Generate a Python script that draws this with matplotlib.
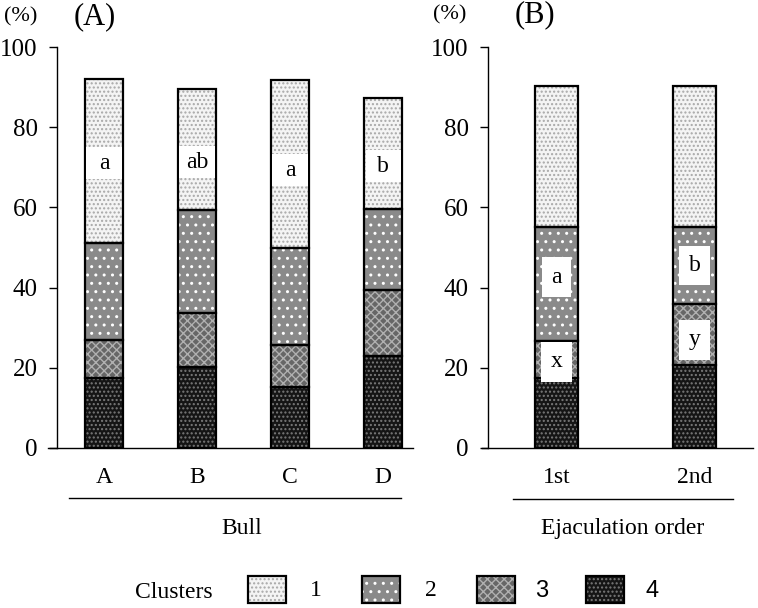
import matplotlib
matplotlib.use("Agg")
import matplotlib.pyplot as plt
from matplotlib.patches import Rectangle
import numpy as np

plt.rcParams['font.family'] = ['Liberation Serif', 'DejaVu Serif']
plt.rcParams['hatch.linewidth'] = 1.0

# data: percentage of each cluster (stack order: 4 at bottom, 1 at top)
bulls = ['A', 'B', 'C', 'D']
bull_c4 = [17.5, 20.3, 15.2, 23.0]
bull_c3 = [9.5, 13.3, 10.5, 16.4]
bull_c2 = [24.2, 25.7, 24.3, 20.1]
bull_c1 = [40.8, 30.2, 41.8, 27.7]
bull_sig = ['a', 'ab', 'a', 'b']          # letters on cluster 1

orders = ['1st', '2nd']
order_c4 = [17.5, 20.6]
order_c3 = [9.3, 15.2]
order_c2 = [28.2, 19.2]
order_c1 = [35.3, 35.3]
order_sig2 = ['a', 'b']                   # letters on cluster 2
order_sig3 = ['x', 'y']                   # letters on cluster 3

clusters = ['1', '2', '3', '4']

# styles per cluster: face, hatch colour, hatch
styles = {
    '4': ('#151515', '#7a7a7a', '....'),
    '3': ('#666666', '#b0b0b0', 'xxxx'),
    '2': ('#8a8a8a', '#ffffff', '..'),
    '1': ('#f4f4f4', '#a8a8a8', '....'),
}


def draw_stack(ax, xs, segs, width):
    bottom = np.zeros(len(xs))
    for name, vals in segs:
        fc, hc, h = styles[name]
        ax.bar(xs, vals, width, bottom=bottom, color=fc, edgecolor=hc,
               linewidth=0, hatch=h, zorder=2)
        ax.bar(xs, vals, width, bottom=bottom, fill=False,
               edgecolor='black', linewidth=1.6, zorder=3)
        bottom = bottom + np.array(vals)
    return bottom


def style_axis(ax, xlabels, xs, left_ext):
    ax.set_ylim(0, 100)
    ax.set_yticks([0, 20, 40, 60, 80, 100])
    ax.set_xticks(xs, xlabels)
    for s in ['top', 'right', 'bottom']:
        ax.spines[s].set_visible(False)
    ax.spines['left'].set_linewidth(1.0)
    ax.tick_params(axis='y', direction='out', length=6, width=1, pad=8,
                   labelsize=18)
    ax.tick_params(axis='x', length=0, pad=14, labelsize=17)
    # x axis line, running a little left of the y axis
    ax.plot([-left_ext, 1], [0, 0], transform=ax.transAxes, color='black',
            lw=1.0, clip_on=False, zorder=4)


fig = plt.figure(figsize=(7.58, 6.08), dpi=100)

# panel A
axA = fig.add_axes([57 / 758, 1 - 448 / 608, 356 / 758, 401 / 608])
xA = np.arange(len(bulls))
wA = 0.41
draw_stack(axA, xA, [('4', bull_c4), ('3', bull_c3), ('2', bull_c2), ('1', bull_c1)], wA)
axA.set_xlim(-0.505, 3.32)
style_axis(axA, bulls, xA, 9 / 356)
sig_y_A = [71, 71.3, 69.3, 70.3]
for x, s, y in zip(xA, bull_sig, sig_y_A):
    axA.add_patch(Rectangle((x - wA / 2 + 0.015, y - 4), wA - 0.03, 8,
                            facecolor='white', edgecolor='none', zorder=4))
    axA.text(x, y, s, ha='center', va='center', fontsize=17, zorder=5)
axA.plot([0.034, 0.966], [-0.125, -0.125], transform=axA.transAxes,
         color='black', lw=1.0, clip_on=False)
axA.text(0.52, -0.2, 'Bull', transform=axA.transAxes, ha='center',
         va='center', fontsize=17)

# panel B
axB = fig.add_axes([488 / 758, 1 - 448 / 608, 265 / 758, 401 / 608])
xB = np.arange(len(orders))
draw_stack(axB, xB, [('4', order_c4), ('3', order_c3), ('2', order_c2), ('1', order_c1)], 0.31)
axB.set_xlim(-0.496, 1.424)
style_axis(axB, orders, xB, 6 / 265)
sig_y_B2 = [42.6, 45.5]
sig_y_B3 = [21.5, 27.0]
for x, s, y in zip(xB, order_sig2, sig_y_B2):
    axB.text(x, y, s, ha='center', va='center', fontsize=17, zorder=5,
             bbox=dict(boxstyle='square,pad=0.4', fc='white', ec='none'))
for x, s, y in zip(xB, order_sig3, sig_y_B3):
    axB.text(x, y, s, ha='center', va='center', fontsize=17, zorder=5,
             bbox=dict(boxstyle='square,pad=0.4', fc='white', ec='none'))
axB.plot([0.094, 0.925], [-0.127, -0.127], transform=axB.transAxes,
         color='black', lw=1.0, clip_on=False)
axB.text(0.509, -0.2, 'Ejaculation order', transform=axB.transAxes,
         ha='center', va='center', fontsize=17)

# panel titles and units
fig.text(4 / 758, 1 - 17 / 608, '(%)', ha='left', va='center', fontsize=16)
fig.text(74 / 758, 1 - 17 / 608, '(A)', ha='left', va='center', fontsize=22)
fig.text(433 / 758, 1 - 15 / 608, '(%)', ha='left', va='center', fontsize=16)
fig.text(515 / 758, 1 - 15 / 608, '(B)', ha='left', va='center', fontsize=22)

# legend
fig.text(213 / 758, 1 - 592 / 608, 'Clusters', ha='right', va='center', fontsize=17)
box_left = [248, 362, 477, 586]
lab_x = [316, 431, 542, 652]
lab_font = ['Liberation Serif', 'Liberation Serif', 'Liberation Sans', 'Liberation Sans']
for name, bx, lx, fam in zip(clusters, box_left, lab_x, lab_font):
    fc, hc, h = styles[name]
    fig.add_artist(Rectangle((bx / 758, 1 - 603 / 608), 38 / 758, 27 / 608,
                             transform=fig.transFigure, facecolor=fc,
                             edgecolor=hc, linewidth=0, hatch=h))
    fig.add_artist(Rectangle((bx / 758, 1 - 603 / 608), 38 / 758, 27 / 608,
                             transform=fig.transFigure, fill=False,
                             edgecolor='black', linewidth=1.6))
    fig.text(lx / 758, 1 - 591 / 608, name, ha='center', va='center',
             fontsize=17, family=fam)

fig.savefig('out.png', dpi=100)
